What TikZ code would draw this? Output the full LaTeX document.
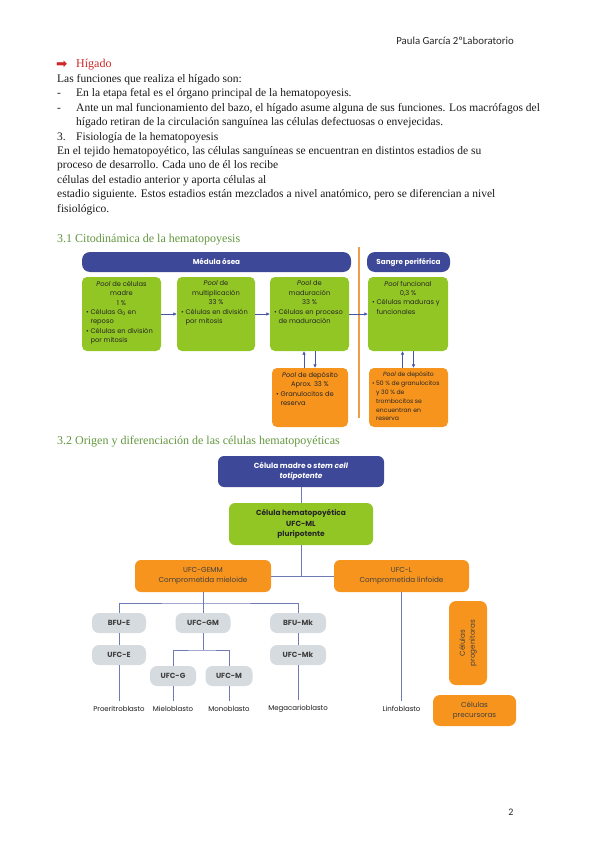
\documentclass[tikz,border=0pt]{standalone}
\usepackage{fontspec}
\setmainfont{Liberation Serif}
\newfontfamily\diagfont{Poppins}
\newfontfamily\headfont{Carlito}
\newfontfamily\symbfont{DejaVu Sans}
\usetikzlibrary{arrows.meta, positioning}

\definecolor{medblue}{RGB}{62,72,152}
\definecolor{limegreen}{RGB}{146,198,36}
\definecolor{poolorange}{RGB}{247,148,30}
\definecolor{cellgray}{RGB}{214,219,223}
\definecolor{linkblue}{RGB}{112,122,180}
\definecolor{arrowblue}{RGB}{72,86,168}
\definecolor{seporange}{RGB}{240,158,78}
\definecolor{headgreen}{RGB}{98,150,62}
\definecolor{titlered}{RGB}{204,40,40}

\newcommand{\poolcontent}[3]{\parbox[t][#1][t]{#2}{#3}}
\newcommand{\ind}{\phantom{\textbullet~}}

\begin{document}
\begin{tikzpicture}[x=1pt, y=-1pt,
        body/.style={anchor=base west, inner sep=0pt, text=black!90, font=\fontsize{11.5}{14}\selectfont},
        heading/.style={anchor=base west, inner sep=0pt, text=headgreen, font=\fontsize{12}{14}\selectfont},
        banner/.style={rounded corners=8pt, fill=medblue, text=white, inner sep=0pt, minimum height=20pt, font=\diagfont\bfseries\fontsize{7.2}{8}\selectfont},
        pool/.style={rounded corners=5pt, inner xsep=4pt, inner ysep=4pt, text=black!85, font=\diagfont\fontsize{6.7}{9.4}\selectfont},
        gpool/.style={pool, fill=limegreen},
        opool/.style={pool, fill=poolorange},
        flow/.style={-{Latex[length=3.5pt, width=3.5pt]}, draw=arrowblue, line width=0.6pt},
        sepline/.style={draw=seporange, line width=1.3pt},
        cell/.style={rounded corners=6pt, inner sep=0pt, align=center, font=\diagfont\fontsize{7.2}{10}\selectfont},
        stemcell/.style={cell, fill=medblue, text=white, font=\diagfont\bfseries\fontsize{7.4}{10.5}\selectfont},
        hemacell/.style={cell, fill=limegreen, text=black!85, font=\diagfont\bfseries\fontsize{7.4}{10.5}\selectfont},
        commit/.style={cell, fill=poolorange, text=black!75, minimum width=136pt, minimum height=32pt},
        unit/.style={cell, rounded corners=7pt, fill=cellgray, text=black!75, minimum height=20pt, font=\diagfont\bfseries\fontsize{7.4}{9}\selectfont},
        blast/.style={inner xsep=0pt, inner ysep=5pt, text=black!90, font=\diagfont\fontsize{7}{8}\selectfont},
        link/.style={draw=linkblue, line width=0.9pt}
    ]
    \useasboundingbox (0,0) rectangle (599,848);

    % Header
    \node[anchor=base east, inner sep=0pt, text=black!85, font=\headfont\fontsize{10.8}{12}\selectfont] (author) at (514,45) {Paula García 2ºLaboratorio};
    \node[anchor=base, inner sep=0pt, text=black!85, font=\headfont\fontsize{10}{12}\selectfont] (pagenum) at (511,815) {2};

    % Text
    \node[anchor=base west, inner sep=0pt, text=titlered, font=\symbfont\fontsize{13.5}{14}\selectfont] (arrowmark) at (56,68.5) {➡};
    \node[anchor=base west, inner sep=0pt, text=titlered, font=\fontsize{12}{14}\selectfont] (higado) at (76,68) {Hígado};
    \node[body] (intro) at (57,82.4) {Las funciones que realiza el hígado son:};
    \node[body] (dash1) at (57,96.8) {-};
    \node[body] (item1) at (76,96.8) {En la etapa fetal es el órgano principal de la hematopoyesis.};
    \node[body] (dash2) at (57,111.2) {-};
    \node[body] (item2) at (76,111.2) {Ante un mal funcionamiento del bazo, el hígado asume alguna de sus funciones. Los macrófagos del};
    \node[body] (item2b) at (76,125.6) {hígado retiran de la circulación sanguínea las células defectuosas o envejecidas.};
    \node[body] (num3) at (57,140) {3.};
    \node[body] (fisio) at (76,140) {Fisiología de la hematopoyesis};
    \node[body] (par1) at (57,154.4) {En el tejido hematopoyético, las células sanguíneas se encuentran en distintos estadios de su};
    \node[body] (par2) at (57,168.8) {proceso de desarrollo. Cada uno de él los recibe};
    \node[body] (par3) at (57,183.2) {células del estadio anterior y aporta células al};
    \node[body] (par4) at (57,197.6) {estadio siguiente. Estos estadios están mezclados a nivel anatómico, pero se diferencian a nivel};
    \node[body] (par5) at (57,212) {fisiológico.};
    \node[heading] (sec31) at (57,242) {3.1 Citodinámica de la hematopoyesis};
    \node[heading] (sec32) at (57,444) {3.2 Origen y diferenciación de las células hematopoyéticas};

    % Citodinamica
    \node[banner, minimum width=269pt] (medula) at (216.5,262) {Médula ósea};
    \node[banner, minimum width=83pt] (sangre) at (408.5,262) {Sangre periférica};
    \coordinate (septop) at (359,247);
    \coordinate (sepbot) at (359,418);
    \draw[sepline] (septop) -- (sepbot);

    \node[gpool] (madre) at (121.5,314) {\poolcontent{66pt}{71pt}{{\centering\textit{Pool} de células\\madre\\1 \%\par}\raggedright
        \textbullet~Células G\textsubscript{0} en\\\ind reposo\\\textbullet~Células en división\\\ind por mitosis}};
    \node[gpool] (multi) at (216,314) {\poolcontent{66pt}{70pt}{{\centering\textit{Pool} de\\multiplicación\\33 \%\par}\raggedright
        \textbullet~Células en división\\\ind por mitosis}};
    \node[gpool] (madura) at (309.5,314) {\poolcontent{66pt}{71pt}{{\centering\textit{Pool} de\\maduración\\33 \%\par}\raggedright
        \textbullet~Células en proceso\\\ind de maduración}};
    \node[gpool] (funcional) at (408,314) {\poolcontent{66pt}{72pt}{{\centering\textit{Pool} funcional\\0,3 \%\par}\raggedright
        \textbullet~Células maduras y\\\ind funcionales}};
    \node[opool] (depo1) at (310,397.5) {\poolcontent{51pt}{68pt}{{\centering\textit{Pool} de depósito\\Aprox. 33 \%\par}\raggedright
        \textbullet~Granulocitos de\\\ind reserva}};
    \node[opool, inner xsep=3pt, font=\diagfont\fontsize{6.1}{8.8}\selectfont] (depo2) at (408.5,397.5) {\poolcontent{51pt}{73pt}{{\centering\textit{Pool} de depósito\par}\raggedright
        \textbullet~50 \% de granulocitos\\\ind y 30 \% de\\\ind trombocitos se\\\ind encuentran en\\\ind reserva}};

    \draw[flow] (madre) -- (multi);
    \draw[flow] (multi) -- (madura);
    \draw[flow] (madura) -- (funcional);
    \coordinate (up1) at ([xshift=-6pt]depo1.north);
    \coordinate (down1) at ([xshift=5pt]depo1.north);
    \coordinate (up2) at ([xshift=-6pt]depo2.north);
    \coordinate (down2) at ([xshift=5pt]depo2.north);
    \draw[flow] (up1) -- (up1 |- madura.south);
    \draw[flow] (down1 |- madura.south) -- (down1);
    \draw[flow] (up2) -- (up2 |- funcional.south);
    \draw[flow] (down2 |- funcional.south) -- (down2);

    % Origen y diferenciacion
    \node[stemcell, minimum width=166pt, minimum height=31pt] (stem) at (301,471.5) {Célula madre o \textit{stem cell}\\\textit{totipotente}};
    \node[hemacell, minimum width=144pt, minimum height=42pt] (hema) at (301,524) {Célula hematopoyética\\UFC-ML\\pluripotente};
    \node[commit] (gemm) at (203,576) {UFC-GEMM\\Comprometida mieloide};
    \node[commit, minimum width=135pt] (ufcl) at (401.5,576) {UFC-L\\Comprometida linfoide};

    \node[unit, minimum width=54pt] (bfue) at (119,623) {BFU-E};
    \node[unit, minimum width=55pt] (ufcgm) at (203,623) {UFC-GM};
    \node[unit, minimum width=56pt] (bfumk) at (298,623) {BFU-Mk};
    \node[unit, minimum width=54pt] (ufce) at (119,655) {UFC-E};
    \node[unit, minimum width=56pt] (ufcmk) at (298,655) {UFC-Mk};
    \node[unit, minimum width=46pt] (ufcg) at (173,676) {UFC-G};
    \node[unit, minimum width=47pt] (ufcm) at (229,676) {UFC-M};

    \node[blast] (proer) at (119,709) {Proeritroblasto};
    \node[blast] (mielo) at (173,709) {Mieloblasto};
    \node[blast] (mono) at (229,709) {Monoblasto};
    \node[blast] (mega) at (298,709) {Megacarioblasto};
    \node[blast] (linfo) at (401.5,709) {Linfoblasto};

    \node[cell, rounded corners=7pt, fill=poolorange, text=black!75, minimum width=84pt, minimum height=38pt, rotate=90] (progen) at (468,643) {Células\\progenitoras};
    \node[cell, rounded corners=7pt, fill=poolorange, text=black!75, minimum width=83pt, minimum height=31pt] (precur) at (474.5,710.5) {Células\\precursoras};

    \draw[link] (stem) -- (hema);
    \draw[link] (hema.south) -- (hema.south |- gemm.east);
    \draw[link] (gemm.east) -- (ufcl.west);
    \coordinate (mybus) at (203,603);
    \draw[link] (gemm) -- (ufcgm);
    \draw[link] (bfue.north) |- (mybus) -| (bfumk.north);
    \draw[link] (bfue) -- (ufce);
    \draw[link] (ufce) -- (proer);
    \coordinate (gmbus) at (203,650);
    \draw[link] (ufcgm) -- (gmbus);
    \draw[link] (ufcg.north) |- (gmbus) -| (ufcm.north);
    \draw[link] (ufcg) -- (mielo);
    \draw[link] (ufcm) -- (mono);
    \draw[link] (bfumk) -- (ufcmk);
    \draw[link] (ufcmk) -- (mega);
    \draw[link] (ufcl) -- (linfo);
\end{tikzpicture}
\end{document}
